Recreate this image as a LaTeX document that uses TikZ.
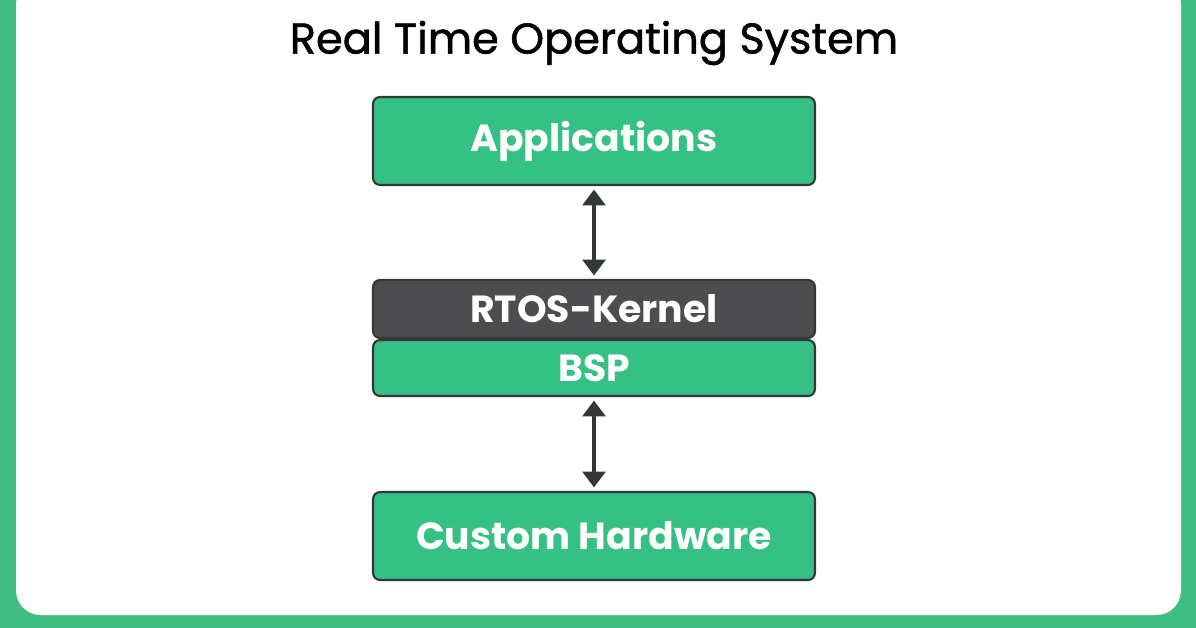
\documentclass[tikz,border=0pt]{standalone}
\usepackage{fontspec}
\setmainfont{Poppins}
\newfontfamily\titlefont{Poppins}[FakeBold=1.2]
\usetikzlibrary{arrows.meta}
\definecolor{gfgGreen}{HTML}{36C184}
\definecolor{frameGreen}{HTML}{3DBE7F}
\definecolor{kernelGray}{HTML}{4D4D4F}
\definecolor{edgeDark}{HTML}{333836}
\tikzset{
  layer/.style={draw=edgeDark, line width=1.2pt, rounded corners=4pt, minimum width=8.84cm,
    text=white, font=\fontsize{21.5}{24}\selectfont\bfseries},
  link/.style={draw=edgeDark, line width=1.8pt, {Triangle[length=9pt,width=13pt]}-{Triangle[length=9pt,width=13pt]}}
}
\begin{document}
\begin{tikzpicture}[x=0.02cm,y=-0.02cm]
\useasboundingbox (0,0) rectangle (1196,628);
% frame
\fill[frameGreen] (0,0) rectangle (1196,628);
\fill[white, rounded corners=14pt] (16,-20) rectangle (1181,615);
% title
\node (title) at (594,43) {\titlefont\fontsize{24.5}{28}\selectfont Real Time Operating System};
% layers
\node[layer, fill=gfgGreen, minimum height=1.76cm] (apps) at (594,141) {Applications};
\node[layer, fill=kernelGray, minimum height=1.16cm] (kernel) at (594,309) {RTOS-Kernel};
\node[layer, fill=gfgGreen, minimum height=1.12cm] (bsp) at (594,368) {BSP};
\node[layer, fill=gfgGreen, minimum height=1.76cm] (hw) at (594,536) {Custom Hardware};
% connectors
\draw[link] ([yshift=-2pt]apps.south) -- ([yshift=2pt]kernel.north);
\draw[link] ([yshift=-2pt]bsp.south) -- ([yshift=2pt]hw.north);
\end{tikzpicture}
\end{document}
